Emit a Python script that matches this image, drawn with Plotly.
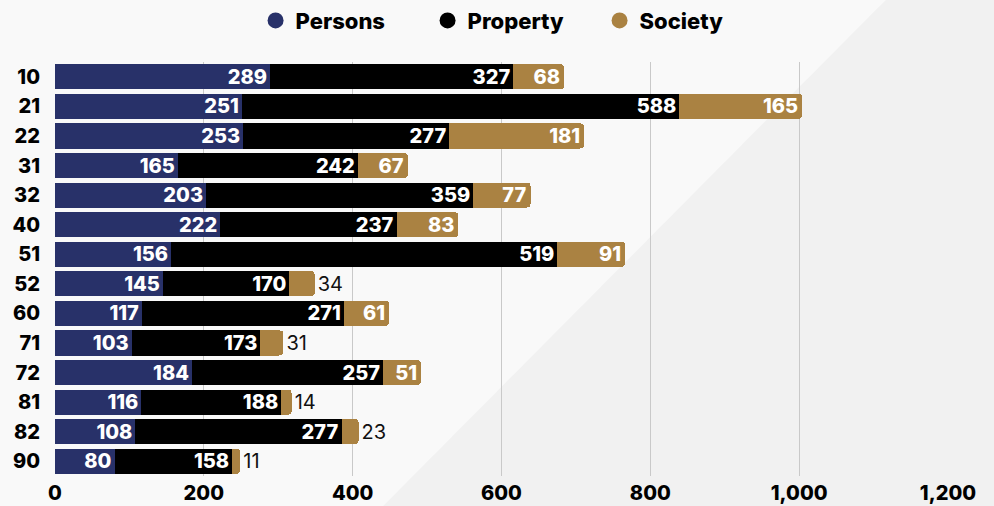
import plotly.graph_objects as go

categories = ["10", "21", "22", "31", "32", "40", "51", "52", "60", "71", "72", "81", "82", "90"]
persons = [289, 251, 253, 165, 203, 222, 156, 145, 117, 103, 184, 116, 108, 80]
property_ = [327, 588, 277, 242, 359, 237, 519, 170, 271, 173, 257, 188, 277, 158]
society = [68, 165, 181, 67, 77, 83, 91, 34, 61, 31, 51, 14, 23, 11]
x_ticks = [0, 200, 400, 600, 800, 1000, 1200]
x_tick_labels = ["0", "200", "400", "600", "800", "1,000", "1,200"]

C_PERSONS = "#283169"
C_PROPERTY = "#000000"
C_SOCIETY = "#AA8242"
FONT = "Inter"

fig = go.Figure()

def add_bar(name, vals, color, positions):
    fig.add_trace(go.Bar(
        name=name, y=categories, x=vals, orientation="h",
        marker=dict(color=color, line=dict(width=0)),
        text=[str(v) for v in vals], textposition=positions,
        textangle=0, insidetextanchor="end",
        insidetextfont=dict(family=FONT, size=20, color="white", weight=800),
        outsidetextfont=dict(family=FONT, size=20, color="#111111", weight=400),
        constraintext="none", cliponaxis=False,
        showlegend=False, hoverinfo="x+name",
    ))

add_bar("Persons", persons, C_PERSONS, ["inside"] * len(persons))
add_bar("Property", property_, C_PROPERTY, ["inside"] * len(property_))
add_bar("Society", society, C_SOCIETY, ["inside" if v >= 45 else "outside" for v in society])

for name, color in [("Persons", C_PERSONS), ("Property", C_PROPERTY), ("Society", C_SOCIETY)]:
    fig.add_trace(go.Scatter(
        x=[None], y=[None], mode="markers", name=name,
        marker=dict(symbol="circle", size=16, color=color),
        showlegend=True,
    ))

# subtle diagonal background tone
fig.add_shape(
    type="path", xref="paper", yref="paper", layer="below", line=dict(width=0),
    fillcolor="#f1f1f1",
    path="M 0.364 -0.08 L 0.935 1.16 L 1.06 1.16 L 1.06 -0.08 Z",
)

fig.update_layout(
    width=994, height=506,
    barmode="stack", bargap=0.15, barcornerradius=4,
    uniformtext=dict(minsize=20, mode="show"),
    margin=dict(l=55, r=46, t=62, b=30, autoexpand=False),
    paper_bgcolor="#f9f9f9", plot_bgcolor="rgba(0,0,0,0)",
    font=dict(family=FONT, color="#000000"),
    legend=dict(
        orientation="h", x=0.2246, xanchor="left", y=1.1, yanchor="middle",
        traceorder="normal", entrywidth=127, entrywidthmode="pixels",
        font=dict(family=FONT, size=22, weight=800, color="#000000"),
        itemsizing="trace", bgcolor="rgba(0,0,0,0)", itemwidth=30,
    ),
    xaxis=dict(
        range=[0, 1200], tickvals=x_ticks, ticktext=x_tick_labels,
        showgrid=True, gridcolor="#c9c9c9", gridwidth=1, zeroline=False,
        showline=False, ticks="", ticklabelstandoff=3,
        tickfont=dict(family=FONT, size=20, weight=800, color="#000000"),
    ),
    yaxis=dict(
        type="category", autorange="reversed", showgrid=False, zeroline=False,
        showline=False, ticks="", ticklabelstandoff=14,
        tickfont=dict(family=FONT, size=20, weight=800, color="#000000"),
    ),
)

fig.write_html("out.html", config={"displayModeBar": False},
               post_script="document.body.style.margin='0';")
